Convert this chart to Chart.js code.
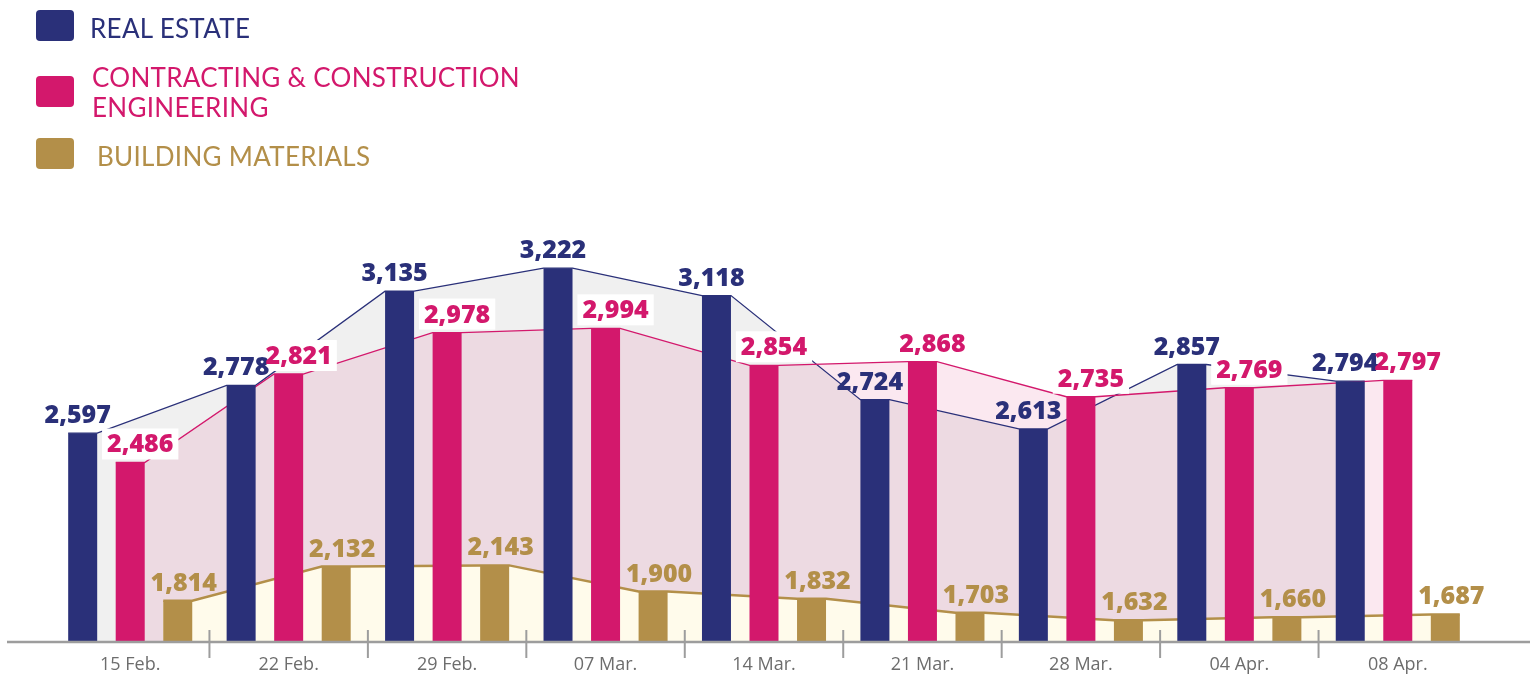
<!DOCTYPE html>
<html>
<head>
<meta charset="utf-8">
<script src="https://cdn.jsdelivr.net/npm/chart.js@4/dist/chart.umd.min.js"></script>
<style>
    html, body { margin: 0; padding: 0; background: #fff; }
    #wrap { position: relative; width: 1535px; height: 680px; }
    #chart { position: absolute; left: 0; top: 0; }
    .legend { position: absolute; left: 0; top: 0; font-family: 'Lato', sans-serif; font-weight: 400; font-size: 26px; letter-spacing: 0.3px; }
    .swatch { position: absolute; left: 36px; width: 38px; height: 31px; border-radius: 4px; }
    .txt { position: absolute; line-height: 30px; white-space: nowrap; }
</style>
</head>
<body>
<div id="wrap">
    <canvas id="chart" width="1535" height="680"></canvas>
    <div class="legend">
        <div class="swatch" style="top:10px;background:#2a3079"></div>
        <div class="txt" style="left:90px;top:13px;color:#2a3079">REAL ESTATE</div>
        <div class="swatch" style="top:76px;background:#d3186c"></div>
        <div class="txt" style="left:92px;top:62px;color:#d3186c">CONTRACTING &amp; CONSTRUCTION<br>ENGINEERING</div>
        <div class="swatch" style="top:138px;background:#b38f49"></div>
        <div class="txt" style="left:97px;top:141px;color:#b38f49">BUILDING MATERIALS</div>
    </div>
</div>
<script>
const categories = ['15 Feb.', '22 Feb.', '29 Feb.', '07 Mar.', '14 Mar.', '21 Mar.', '28 Mar.', '04 Apr.', '08 Apr.'];
const realEstate = [2597, 2778, 3135, 3222, 3118, 2724, 2613, 2857, 2794];
const contracting = [2486, 2821, 2978, 2994, 2854, 2868, 2735, 2769, 2797];
const buildingMaterials = [1814, 2132, 2143, 1900, 1832, 1703, 1632, 1660, 1687];

const NAVY = '#2a3079';
const PINK = '#d3186c';
const GOLD = '#b38f49';
const AXIS_GREY = '#9d9d9d';

// area under each series, plus the thin line joining the bar tops
const areaStyles = [
    { fill: '#f0f0f0', line: NAVY, width: 1.3 },
    { fill: 'rgba(212, 25, 109, 0.10)', line: PINK, width: 1.3 },
    { fill: '#fffbeb', line: GOLD, width: 2.5 }
];
// label tweaks: horizontal nudge and optional white box
const labelStyles = [
    { color: NAVY, dx: -5, box: false },
    { color: PINK, dx: 10, box: true },
    { color: GOLD, dx: 6, box: false }
];

function barEdges(chart, i) {
    const bottom = chart.chartArea.bottom;
    return chart.getDatasetMeta(i).data.map(bar => {
        const p = bar.getProps(['x', 'y', 'width'], true);
        return { l: p.x - p.width / 2, r: p.x + p.width / 2, top: p.y, base: bottom, x: p.x };
    });
}

const areaPlugin = {
    id: 'areas',
    beforeDatasetsDraw(chart) {
        const ctx = chart.ctx;
        const all = areaStyles.map((s, i) => barEdges(chart, i));
        ctx.save();
        all.forEach((pts, i) => {
            ctx.beginPath();
            ctx.moveTo(pts[0].l, pts[0].base);
            pts.forEach(p => { ctx.lineTo(p.l, p.top); ctx.lineTo(p.r, p.top); });
            ctx.lineTo(pts[pts.length - 1].r, pts[pts.length - 1].base);
            ctx.closePath();
            ctx.fillStyle = areaStyles[i].fill;
            ctx.fill();
        });
        all.forEach((pts, i) => {
            ctx.beginPath();
            pts.forEach((p, k) => {
                if (k === 0) ctx.moveTo(p.l, p.top); else ctx.lineTo(p.l, p.top);
                ctx.lineTo(p.r, p.top);
            });
            ctx.strokeStyle = areaStyles[i].line;
            ctx.lineWidth = areaStyles[i].width;
            ctx.stroke();
        });
        ctx.restore();
    },
    afterDatasetsDraw(chart) {
        const ctx = chart.ctx;
        const area = chart.chartArea;
        const xScale = chart.scales.x;
        ctx.save();
        // baseline
        ctx.strokeStyle = AXIS_GREY;
        ctx.lineWidth = 2.5;
        ctx.beginPath();
        ctx.moveTo(area.left - 44, area.bottom + 1);
        ctx.lineTo(chart.width - 5, area.bottom + 1);
        ctx.stroke();
        // separators between weeks
        ctx.lineWidth = 2;
        for (let i = 1; i < categories.length; i++) {
            const x = (xScale.getPixelForTick(i - 1) + xScale.getPixelForTick(i)) / 2;
            ctx.beginPath();
            ctx.moveTo(x, area.bottom - 11);
            ctx.lineTo(x, area.bottom + 17);
            ctx.stroke();
        }
        // value labels: boxes first so they never hide a neighbour's text
        ctx.font = '800 25px "Open Sans", sans-serif';
        ctx.textAlign = 'center';
        ctx.textBaseline = 'alphabetic';
        const labels = [];
        chart.data.datasets.forEach((ds, i) => {
            const st = labelStyles[i];
            barEdges(chart, i).forEach((p, k) => {
                labels.push({ text: ds.data[k].toLocaleString('en-US'), x: p.x + st.dx, y: p.top - 10, st });
            });
        });
        labels.forEach(l => {
            if (!l.st.box) return;
            const w = ctx.measureText(l.text).width;
            ctx.fillStyle = '#ffffff';
            ctx.fillRect(l.x - w / 2 - 5, l.y - 24, w + 10, 31);
        });
        labels.forEach(l => {
            ctx.fillStyle = l.st.color;
            ctx.fillText(l.text, l.x, l.y);
        });
        ctx.restore();
    }
};

new Chart(document.getElementById('chart'), {
    type: 'bar',
    data: {
        labels: categories,
        datasets: [{
            label: 'REAL ESTATE',
            data: realEstate,
            backgroundColor: NAVY,
            yAxisID: 'y'
        }, {
            label: 'CONTRACTING & CONSTRUCTION ENGINEERING',
            data: contracting,
            backgroundColor: PINK,
            yAxisID: 'y'
        }, {
            label: 'BUILDING MATERIALS',
            data: buildingMaterials,
            backgroundColor: GOLD,
            yAxisID: 'y2'
        }]
    },
    options: {
        responsive: false,
        animation: false,
        devicePixelRatio: 1,
        categoryPercentage: 0.9,
        barPercentage: 0.61,
        layout: {
            padding: { left: 51, right: 58, top: 200, bottom: 0 }
        },
        plugins: {
            legend: { display: false },
            tooltip: { enabled: false }
        },
        scales: {
            x: {
                grid: { display: false, drawTicks: false },
                border: { display: false },
                ticks: {
                    color: '#6d6d6d',
                    padding: 13,
                    maxRotation: 0,
                    font: { family: 'Open Sans', size: 18 }
                },
                afterFit: (scale) => { scale.height = 39; }
            },
            y: {
                display: false,
                min: 1810,
                max: 3480
            },
            y2: {
                display: false,
                min: 1440,
                max: 5540
            }
        }
    },
    plugins: [areaPlugin]
});
</script>
</body>
</html>
